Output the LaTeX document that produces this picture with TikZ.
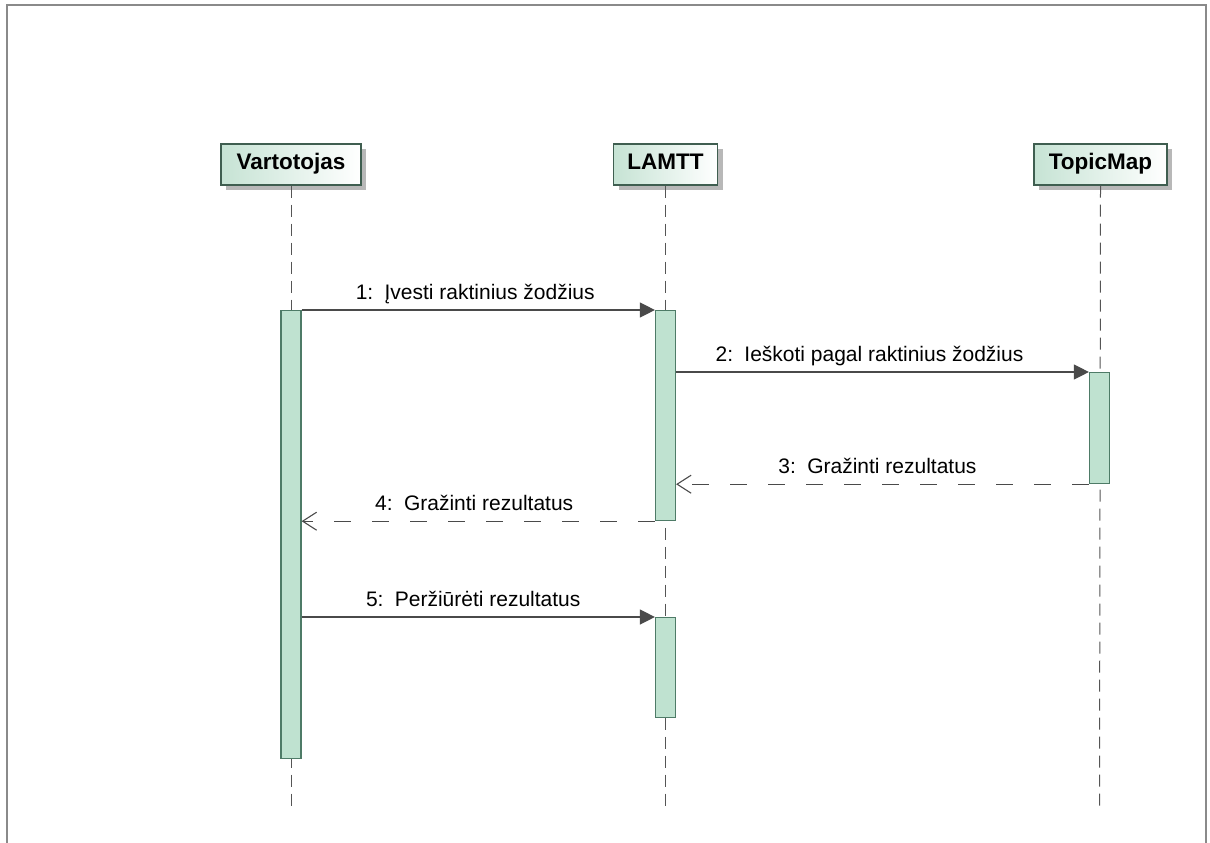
\documentclass[tikz,border=0pt]{standalone}
\usepackage{fontspec}
\setmainfont{Liberation Sans}
\usetikzlibrary{arrows.meta,shadows}

\definecolor{framegray}{HTML}{8A8A8A}
\definecolor{hdrgreen}{HTML}{C6E3D4}
\definecolor{hdrborder}{HTML}{3F5E50}
\definecolor{actfill}{HTML}{BFE2D0}
\definecolor{actborder}{HTML}{4E7B67}
\definecolor{msgline}{HTML}{4A4A4A}
\definecolor{lifeline}{HTML}{555555}

\tikzset{
  header/.style={draw=hdrborder, line width=1.4pt, left color=hdrgreen, right color=white,
    minimum height=41pt, inner sep=0pt, text height=16pt, text depth=6pt,
    font=\fontsize{22.5}{26}\selectfont\bfseries,
    drop shadow={shadow xshift=5pt, shadow yshift=-5pt, fill=black!28, opacity=1}},
  activation/.style={draw=actborder, line width=1.2pt, fill=actfill, anchor=north,
    minimum width=20pt, inner sep=0pt},
  lifelinestyle/.style={draw=lifeline, line width=1pt, dash pattern=on 12pt off 7pt},
  syncmsg/.style={draw=msgline, line width=1.3pt, -{Triangle[length=15pt,width=15pt]}},
  replymsg/.style={draw=msgline, line width=1.3pt, dash pattern=on 17pt off 21pt,
    -{Straight Barb[length=14pt,width=18pt,line width=1.1pt]}},
  msglabel/.style={font=\fontsize{21}{24}\selectfont, anchor=base, inner sep=0pt, yshift=11pt}
}

\begin{document}
\begin{tikzpicture}[x=1pt,y=-1pt]
\useasboundingbox (0,0) rectangle (1210,843);

% diagram frame (top, left and right edges)
\draw[framegray, line width=2pt] (7,843) -- (7,5) -- (1206,5) -- (1206,843);

% participants
\node[header, minimum width=140pt] (h1) at (291,164.5) {Vartotojas};
\node[header, minimum width=104pt] (h2) at (665.5,164.5) {LAMTT};
\node[header, minimum width=133pt] (h3) at (1100.5,164.5) {TopicMap};

% lifeline ends
\coordinate (e1) at (291,808);
\coordinate (e2) at (665.5,808);
\coordinate (e3) at (1099.5,808);

\draw[lifelinestyle] (h1.south) -- (e1);
\draw[lifelinestyle] (h2.south) -- (e2);
\draw[lifelinestyle] (h3.south) -- (e3);

% activation bars
\node[activation, minimum height=448pt] (a1) at (291,310) {};
\node[activation, minimum height=210pt] (b1) at (665.5,310) {};
\node[activation, minimum height=111pt] (c1) at (1099.5,372) {};
\node[activation, minimum height=100pt] (b2) at (665.5,617) {};

% messages
\draw[syncmsg] (a1.north east) -- node[msglabel, xshift=-3pt] {1:\, Įvesti raktinius žodžius} (b1.north west);
\draw[syncmsg] (b1.east |- c1.north) -- node[msglabel, xshift=-13pt] {2:\, Ieškoti pagal raktinius žodžius} (c1.north west);
\draw[replymsg] (c1.south west) -- node[msglabel, xshift=-5pt] {3:\, Gražinti rezultatus} (b1.east |- c1.south);
\draw[replymsg] (b1.south west) -- node[msglabel, xshift=-4pt] {4:\, Gražinti rezultatus} (a1.east |- b1.south);
\draw[syncmsg] (a1.east |- b2.north) -- node[msglabel, xshift=-5pt] {5:\, Peržiūrėti rezultatus} (b2.north west);
\end{tikzpicture}
\end{document}
